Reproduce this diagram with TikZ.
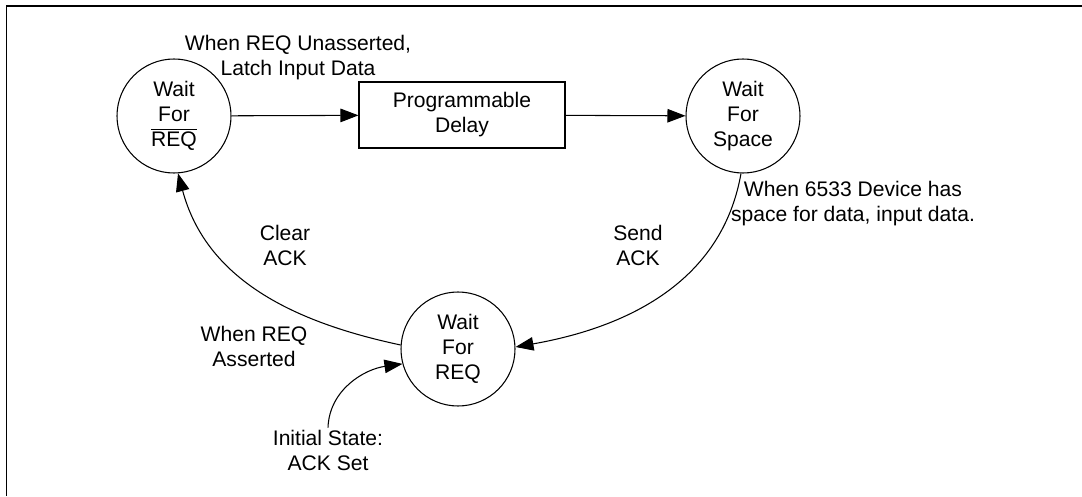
\documentclass[tikz,border=0pt]{standalone}
\usepackage{fontspec}
\setmainfont{Liberation Sans}
\usepackage{tikz}
\usetikzlibrary{positioning,calc,arrows.meta}

\begin{document}
\begin{tikzpicture}[
    font=\fontsize{12}{14.2}\selectfont,
    state/.style={draw, circle, line width=0.6pt, minimum size=2.28cm, inner sep=0pt, align=center},
    delaybox/.style={draw, line width=0.6pt, minimum width=4.12cm, minimum height=1.32cm, align=center},
    note/.style={align=center, inner sep=1pt},
    flow/.style={line width=0.6pt, -{Triangle[length=0.36cm, width=0.27cm]}}
  ]
  \useasboundingbox (0, 0) rectangle (21.64, 9.92);

  % Frame
  \draw[line width=1.1pt] (0.13, 0) -- (0.13, 9.80) -- (21.64, 9.80);

  % States and delay
  \node[state] (wfnreq) at (3.48, 7.60) {Wait\\For\\$\overline{\hbox{REQ}}$};
  \node[delaybox] (delay) at (9.24, 7.62) {Programmable\\Delay};
  \node[state] (wfspace) at (14.86, 7.60) {Wait\\For\\Space};
  \node[state] (wfreq) at (9.16, 2.94) {Wait\\For\\REQ};

  % Labels
  \node[note] (unasrt) at (5.96, 8.76) {When REQ Unasserted,\\Latch Input Data};
  \node[note] (hasspace) at (17.06, 5.84) {When 6533 Device has\\space for data, input data.};
  \node[note] (clrack) at (5.70, 5.02) {Clear\\ACK};
  \node[note] (sndack) at (12.76, 5.02) {Send\\ACK};
  \node[note] (asrt) at (5.08, 3.00) {When REQ\\Asserted};
  \node[note] (init) at (6.56, 0.92) {Initial State:\\ACK Set};

  % Transitions
  \draw[flow] (wfnreq) -- (delay);
  \draw[flow] (delay) -- (wfspace);
  \draw[flow] (wfspace.-92) to[out=-100, in=10] (wfreq.2);
  \draw[flow] (wfreq.176) to[out=168, in=-75] (wfnreq.-86);
  \draw[flow] (init.north) to[out=88, in=188] (wfreq.195);
\end{tikzpicture}
\end{document}
